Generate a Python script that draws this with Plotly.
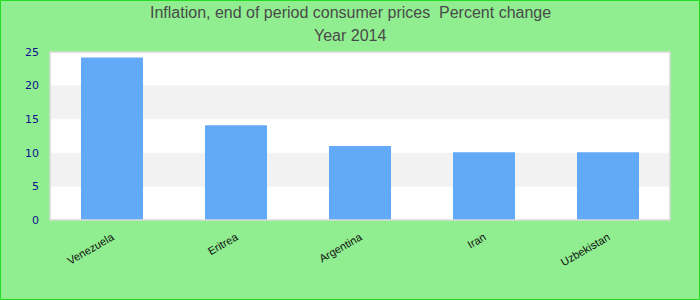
import plotly.graph_objects as go

countries = ["Venezuela", "Eritrea", "Argentina", "Iran", "Uzbekistan"]
values = [24.2, 14.1, 11.0, 10.1, 10.1]
y_ticks = [0, 5, 10, 15, 20, 25]
title_lines = ["Inflation, end of period consumer prices  Percent change", "Year 2014"]

L, R, T, B = 50, 30, 52, 80
W, H = 700, 300
pw, ph = W - L - R, H - T - B

fig = go.Figure(go.Bar(x=countries, y=values, marker=dict(color="#62aaf7", line=dict(width=0)), width=0.5))

shapes = []
for lo, hi in [(5, 10), (15, 20)]:
    shapes.append(dict(type="rect", xref="paper", yref="y", x0=0, x1=1, y0=lo, y1=hi,
                       fillcolor="#f2f2f2", line=dict(width=0), layer="below"))
shapes.append(dict(type="rect", xref="paper", yref="paper", x0=0, x1=1, y0=0, y1=1,
                   line=dict(color="#d9d9d9", width=1.5), layer="above"))
shapes.append(dict(type="rect", xref="paper", yref="paper",
                   x0=(-L + 0.5) / pw, x1=1 + (R - 0.5) / pw,
                   y0=(-B + 0.5) / ph, y1=1 + (T - 0.5) / ph,
                   line=dict(color="#22dd22", width=1), layer="above"))

annotations = []
for txt, ypix in zip(title_lines, [13, 36]):
    annotations.append(dict(text=txt, xref="paper", yref="paper", x=(W / 2 - L) / pw,
                            y=1 + (T - ypix) / ph, xanchor="center", yanchor="middle",
                            showarrow=False, font=dict(size=16, color="#4a4a4a")))

fig.update_layout(
    width=W, height=H,
    margin=dict(l=L, r=R, t=T, b=B),
    paper_bgcolor="#90ee90",
    plot_bgcolor="#ffffff",
    font=dict(family="Liberation Sans, Arial, sans-serif"),
    xaxis=dict(tickangle=-30, tickfont=dict(size=11, color="#111111"), showgrid=False,
               showline=False, ticks="", ticklen=0, ticklabelstandoff=8),
    yaxis=dict(range=[0, 25], tickvals=y_ticks, showgrid=False, zeroline=False,
               tickfont=dict(size=11, color="#10108f", family="DejaVu Sans, sans-serif"),
               ticks="", showline=False, ticklabelstandoff=10),
    shapes=shapes,
    annotations=annotations,
    bargap=0.5,
    showlegend=False,
)

fig.write_html("out.html")
